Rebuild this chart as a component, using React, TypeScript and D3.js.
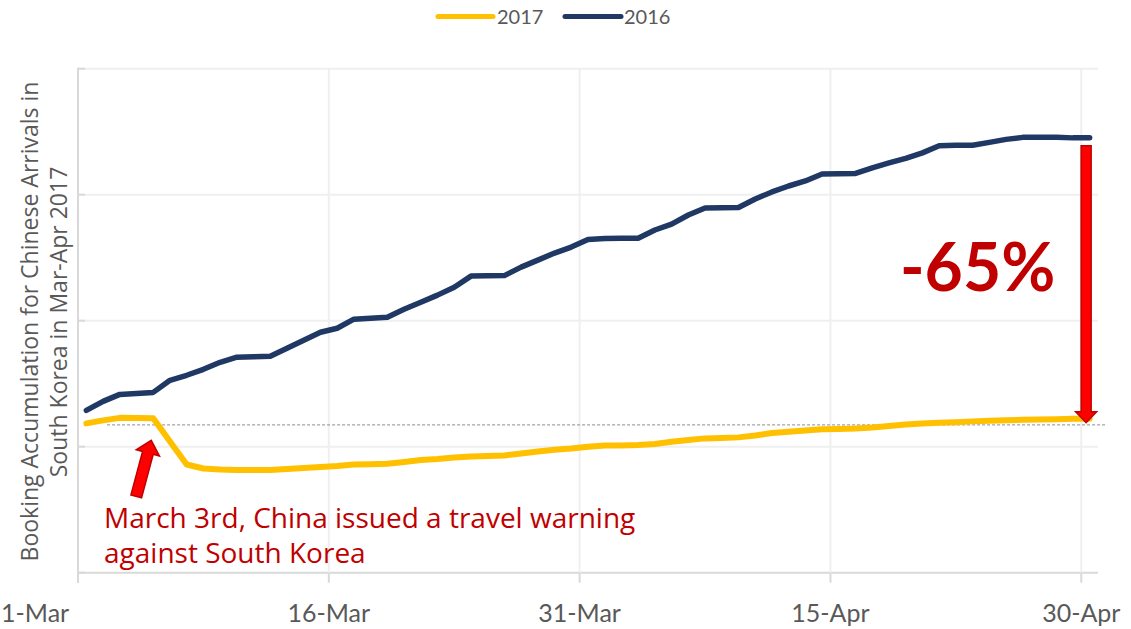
import React from 'react';
import * as d3 from 'd3';

// ---- data -------------------------------------------------------------
const dayCount = 61; // 1-Mar .. 30-Apr
const tickDays = [0, 15, 30, 45, 60];
const tickLabels = ['1-Mar', '16-Mar', '31-Mar', '15-Apr', '30-Apr'];
const yGridValues = [0, 1000, 2000, 3000, 4000];

const series2016 = [
  1288, 1360, 1415, 1423, 1431, 1527, 1567, 1614, 1670, 1710,
  1714, 1718, 1781, 1845, 1908, 1940, 2012, 2020, 2028, 2091,
  2147, 2203, 2266, 2354, 2356, 2358, 2425, 2481, 2537, 2584,
  2644, 2652, 2654, 2655, 2720, 2767, 2839, 2895, 2896, 2899,
  2966, 3022, 3069, 3109, 3165, 3167, 3169, 3213, 3252, 3288,
  3332, 3388, 3392, 3393, 3415, 3439, 3455, 3455, 3455, 3451,
  3451,
];
const series2017 = [
  1185, 1209, 1229, 1227, 1225, 1042, 859, 827, 819, 815,
  815, 815, 823, 831, 839, 847, 859, 861, 864, 879,
  895, 903, 914, 922, 926, 930, 946, 962, 976, 986,
  1000, 1010, 1010, 1014, 1022, 1039, 1054, 1066, 1070, 1074,
  1089, 1109, 1119, 1129, 1139, 1141, 1144, 1153, 1165, 1177,
  1185, 1190, 1195, 1201, 1205, 1209, 1213, 1215, 1217, 1221,
  1222,
];
const referenceLevel = 1173;
const warningDay = 4;
const seriesNames = ['2017', '2016'];
const seriesColors = ['#FFC000', '#203864'];
const changeLabel = '-65%';
const annotationLines = ['March 3rd, China issued a travel warning', 'against South Korea'];
const yTitleLines = ['Booking Accumulation for Chinese Arrivals in', 'South Korea in Mar-Apr 2017'];

// ---- layout -----------------------------------------------------------
const W = 1131;
const H = 629;
const plot = { left: 78, right: 1098, top: 68.7, bottom: 572.7 };
const FONT = 'Lato, "Open Sans", sans-serif';
const FONT2 = '"Open Sans", Lato, sans-serif';
const GRAY_TEXT = '#595959';
const DARK_RED = '#C00000';

function arrowPath(tx: number, ty: number, sx: number, sy: number, shaftW: number, headW: number, headL: number) {
  const dx = tx - sx;
  const dy = ty - sy;
  const len = Math.hypot(dx, dy);
  const ux = dx / len;
  const uy = dy / len;
  const px = -uy;
  const py = ux;
  const bx = tx - ux * headL;
  const by = ty - uy * headL;
  const pts: [number, number][] = [
    [sx + px * shaftW / 2, sy + py * shaftW / 2],
    [bx + px * shaftW / 2, by + py * shaftW / 2],
    [bx + px * headW / 2, by + py * headW / 2],
    [tx, ty],
    [bx - px * headW / 2, by - py * headW / 2],
    [bx - px * shaftW / 2, by - py * shaftW / 2],
    [sx - px * shaftW / 2, sy - py * shaftW / 2],
  ];
  return 'M' + pts.map((p) => p[0].toFixed(2) + ',' + p[1].toFixed(2)).join('L') + 'Z';
}

export default function App() {
  const x = d3.scaleLinear().domain([0, dayCount]).range([plot.left, plot.right]);
  const xc = (i: number) => x(i + 0.5);
  const y = d3.scaleLinear().domain([0, 4000]).range([plot.bottom, plot.top]);

  const line = d3
    .line<number>()
    .x((_, i) => xc(i))
    .y((d) => y(d));

  const last = dayCount - 1;
  const bigArrowX = xc(last) - 3.5;
  const bigTop = y(series2016[last]) + 8;
  const bigTip = y(series2017[last]) + 4;

  const smallTipX = xc(warningDay) - 2;
  const smallTipY = y(series2017[warningDay]) + 22;

  return (
    <svg
      width={W}
      height={H}
      viewBox={`0 0 ${W} ${H}`}
      style={{ position: 'absolute', left: 0, top: 0, background: '#fff' }}
    >
      <rect x={0} y={0} width={W} height={H} fill="#fff" />

      {/* legend */}
      <g fontFamily={FONT} fontSize={20} fill={GRAY_TEXT}>
        <line x1={438} x2={493} y1={16.5} y2={16.5} stroke={seriesColors[0]} strokeWidth={5} strokeLinecap="round" />
        <text x={497} y={23.5}>{seriesNames[0]}</text>
        <line x1={565} x2={621} y1={16.5} y2={16.5} stroke={seriesColors[1]} strokeWidth={5} strokeLinecap="round" />
        <text x={624} y={23.5}>{seriesNames[1]}</text>
      </g>

      {/* horizontal gridlines */}
      {yGridValues.map((v) => (
        <line key={'h' + v} x1={plot.left} x2={plot.right} y1={y(v)} y2={y(v)} stroke={v === 0 ? '#D9D9D9' : '#EFEFEF'} strokeWidth={2} />
      ))}
      {/* left-axis ticks */}
      {yGridValues.map((v) => (
        <line key={'ht' + v} x1={plot.left} x2={plot.left + 7} y1={y(v)} y2={y(v)} stroke="#D9D9D9" strokeWidth={2} />
      ))}
      {/* vertical gridlines */}
      {tickDays.slice(1).map((d) => (
        <line key={'v' + d} x1={x(d)} x2={x(d)} y1={plot.top} y2={plot.bottom} stroke="#EFEFEF" strokeWidth={2} />
      ))}
      {tickDays.map((d) => (
        <line key={'vt' + d} x1={x(d)} x2={x(d)} y1={plot.bottom} y2={plot.bottom + 10} stroke="#D9D9D9" strokeWidth={2} />
      ))}
      {/* left axis */}
      <line x1={plot.left} x2={plot.left} y1={plot.top - 1} y2={plot.bottom + 10} stroke="#D9D9D9" strokeWidth={2} />

      {/* x tick labels */}
      <g fontFamily={FONT} fontSize={25} fill={GRAY_TEXT}>
        {tickDays.map((d, i) => (
          <text key={'xl' + d} x={i === 0 ? 1 : x(d)} y={622} textAnchor={i === 0 ? 'start' : 'middle'}>
            {tickLabels[i]}
          </text>
        ))}
      </g>

      {/* y title */}
      <g fontFamily={FONT2} fontSize={23} fill={GRAY_TEXT}>
        <text transform={`translate(38, 321.5) rotate(-90)`} textAnchor="middle">{yTitleLines[0]}</text>
        <text transform={`translate(67, 322) rotate(-90)`} textAnchor="middle">{yTitleLines[1]}</text>
      </g>

      {/* reference dashed line */}
      <line
        x1={xc(1) + 4}
        x2={plot.right + 8}
        y1={y(referenceLevel)}
        y2={y(referenceLevel)}
        stroke="#8C8C8C"
        strokeWidth={1}
        strokeDasharray="3,2"
      />

      {/* series */}
      <path d={line(series2016) || ''} fill="none" stroke={seriesColors[1]} strokeWidth={5.5} strokeLinejoin="round" strokeLinecap="round" />
      <path d={line(series2017) || ''} fill="none" stroke={seriesColors[0]} strokeWidth={6} strokeLinejoin="round" strokeLinecap="round" />

      {/* big arrow */}
      <path
        d={arrowPath(bigArrowX, bigTip, bigArrowX, bigTop, 10, 21, 11)}
        fill="#FF0000"
        stroke={DARK_RED}
        strokeWidth={1.5}
        strokeLinejoin="miter"
      />
      {/* small arrow */}
      <path
        d={arrowPath(smallTipX, smallTipY, smallTipX - 15, smallTipY + 56, 11, 24, 13)}
        fill="#FF0000"
        stroke={DARK_RED}
        strokeWidth={1.5}
      />

      {/* annotations */}
      <text x={900} y={291} fontFamily={FONT} fontWeight={700} fontSize={66} fill={DARK_RED}>{changeLabel}</text>
      <g fontFamily={FONT2} fontSize={28} fill={DARK_RED}>
        <text x={104} y={528}>{annotationLines[0]}</text>
        <text x={104} y={563}>{annotationLines[1]}</text>
      </g>
    </svg>
  );
}
